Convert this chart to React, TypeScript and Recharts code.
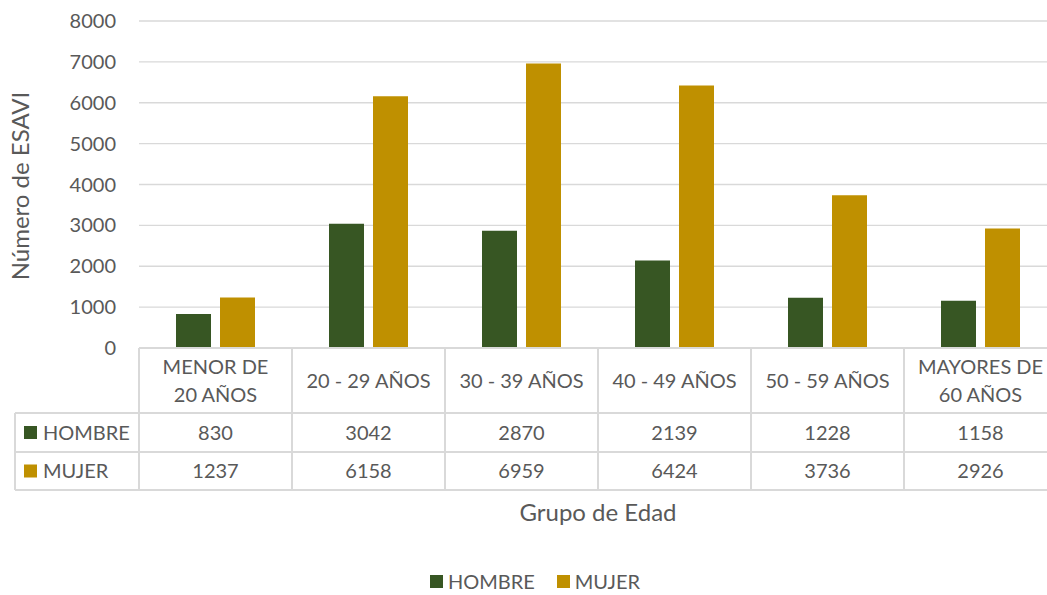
import { Bar, BarChart, CartesianGrid, Legend, XAxis, YAxis } from "recharts";

const grupos = [
  "MENOR DE\n20 AÑOS",
  "20 - 29 AÑOS",
  "30 - 39 AÑOS",
  "40 - 49 AÑOS",
  "50 - 59 AÑOS",
  "MAYORES DE\n60 AÑOS"
];
const hombre = [830, 3042, 2870, 2139, 1228, 1158];
const mujer = [1237, 6158, 6959, 6424, 3736, 2926];
const yTicks = [0, 1000, 2000, 3000, 4000, 5000, 6000, 7000, 8000];

const series = [
  { key: "hombre", name: "HOMBRE", color: "#375623", values: hombre },
  { key: "mujer", name: "MUJER", color: "#BF9000", values: mujer }
];

const data = grupos.map((grupo, i) => ({ grupo, hombre: hombre[i], mujer: mujer[i] }));

const FONT = "Lato, 'Open Sans', sans-serif";
const TEXT = "#595959";
const GRID = "#d9d9d9";
const COL = 153;
const TABLE_LEFT = 15;

function TableTick(props: any) {
  const { x, y, payload } = props;
  const i = payload.index ?? props.index;
  const left = x - COL / 2;
  const right = x + COL / 2;
  const r1 = y + 65;
  const r2 = y + 104;
  const bottom = y + 142;
  const lines = String(payload.value).split("\n");
  const headerYs = lines.length === 2 ? [y + 19, y + 47] : [y + 33];

  return (
    <g fontFamily={FONT} fontSize={20} fill={TEXT}>
      <line x1={right} x2={right} y1={y} y2={bottom} stroke={GRID} strokeWidth={2} />
      <line x1={left} x2={right} y1={r1} y2={r1} stroke={GRID} strokeWidth={2} />
      <line x1={left} x2={right} y1={r2} y2={r2} stroke={GRID} strokeWidth={2} />
      <line x1={left} x2={right} y1={bottom} y2={bottom} stroke={GRID} strokeWidth={2} />
      {i === 0 && (
        <g>
          <line x1={left} x2={left} y1={y} y2={bottom} stroke={GRID} strokeWidth={2} />
          <line x1={TABLE_LEFT} x2={TABLE_LEFT} y1={r1} y2={bottom} stroke={GRID} strokeWidth={2} />
          <line x1={TABLE_LEFT} x2={left} y1={r1} y2={r1} stroke={GRID} strokeWidth={2} />
          <line x1={TABLE_LEFT} x2={left} y1={r2} y2={r2} stroke={GRID} strokeWidth={2} />
          <line x1={TABLE_LEFT} x2={left} y1={bottom} y2={bottom} stroke={GRID} strokeWidth={2} />
          {series.map((s, k) => {
            const cy = k === 0 ? (r1 + r2) / 2 : (r2 + bottom) / 2;
            return (
              <g key={s.key}>
                <rect x={24} y={cy - 6.5} width={13} height={13} fill={s.color} />
                <text x={43} y={cy} dy="0.35em" fill={TEXT}>
                  {s.name}
                </text>
              </g>
            );
          })}
        </g>
      )}
      {headerYs.map((hy, k) => (
        <text key={k} x={x} y={hy} dy="0.35em" textAnchor="middle" fill={TEXT}>
          {lines[k]}
        </text>
      ))}
      <text x={x} y={(r1 + r2) / 2} dy="0.35em" textAnchor="middle" fill={TEXT}>
        {series[0].values[i]}
      </text>
      <text x={x} y={(r2 + bottom) / 2} dy="0.35em" textAnchor="middle" fill={TEXT}>
        {series[1].values[i]}
      </text>
    </g>
  );
}

function XTitle(props: any) {
  const vb = props.viewBox || {};
  return (
    <text
      x={vb.x + vb.width / 2}
      y={513}
      dy="0.35em"
      textAnchor="middle"
      fontFamily={FONT}
      fontSize={24}
      fill={TEXT}
    >
      Grupo de Edad
    </text>
  );
}

function YTitle() {
  return (
    <text
      x={0}
      y={0}
      transform="translate(21 186) rotate(-90)"
      dy="0.35em"
      textAnchor="middle"
      fontFamily={FONT}
      fontSize={24}
      fill={TEXT}
    >
      Número de ESAVI
    </text>
  );
}

function LegendContent() {
  return (
    <div
      style={{
        display: "flex",
        justifyContent: "center",
        gap: 22,
        fontFamily: FONT,
        fontSize: 20,
        color: TEXT,
        lineHeight: "24px"
      }}
    >
      {series.map((s) => (
        <span key={s.key} style={{ display: "flex", alignItems: "center" }}>
          <span style={{ width: 13, height: 13, background: s.color, marginRight: 5, display: "inline-block" }} />
          {s.name}
        </span>
      ))}
    </div>
  );
}

export default function App() {
  return (
    <div
      style={{
        position: "absolute",
        left: 0,
        top: 0,
        width: 1047,
        height: 595,
        overflow: "hidden",
        background: "#fff"
      }}
    >
      <BarChart
        width={1070}
        height={595}
        data={data}
        margin={{ top: 21, right: 13, left: 0, bottom: 0 }}
        barGap={9}
        barSize={35}
      >
        <CartesianGrid stroke={GRID} strokeWidth={1.3} vertical={false} />
        <XAxis
          dataKey="grupo"
          height={247}
          interval={0}
          tickSize={0}
          tickMargin={0}
          axisLine={{ stroke: GRID, strokeWidth: 2 }}
          tickLine={false}
          tick={<TableTick />}
          label={<XTitle />}
        />
        <YAxis
          width={139}
          domain={[0, 8000]}
          ticks={yTicks}
          axisLine={false}
          tickLine={false}
          tickSize={0}
          tickMargin={23}
          tick={{ fill: TEXT, fontSize: 20, fontFamily: FONT }}
          label={<YTitle />}
        />
        <Legend
          layout="horizontal"
          verticalAlign="middle"
          align="center"
          content={<LegendContent />}
          wrapperStyle={{ top: 569, left: 0, width: 1070 }}
        />
        {series.map((s) => (
          <Bar key={s.key} dataKey={s.key} name={s.name} fill={s.color} isAnimationActive={false} />
        ))}
      </BarChart>
    </div>
  );
}
